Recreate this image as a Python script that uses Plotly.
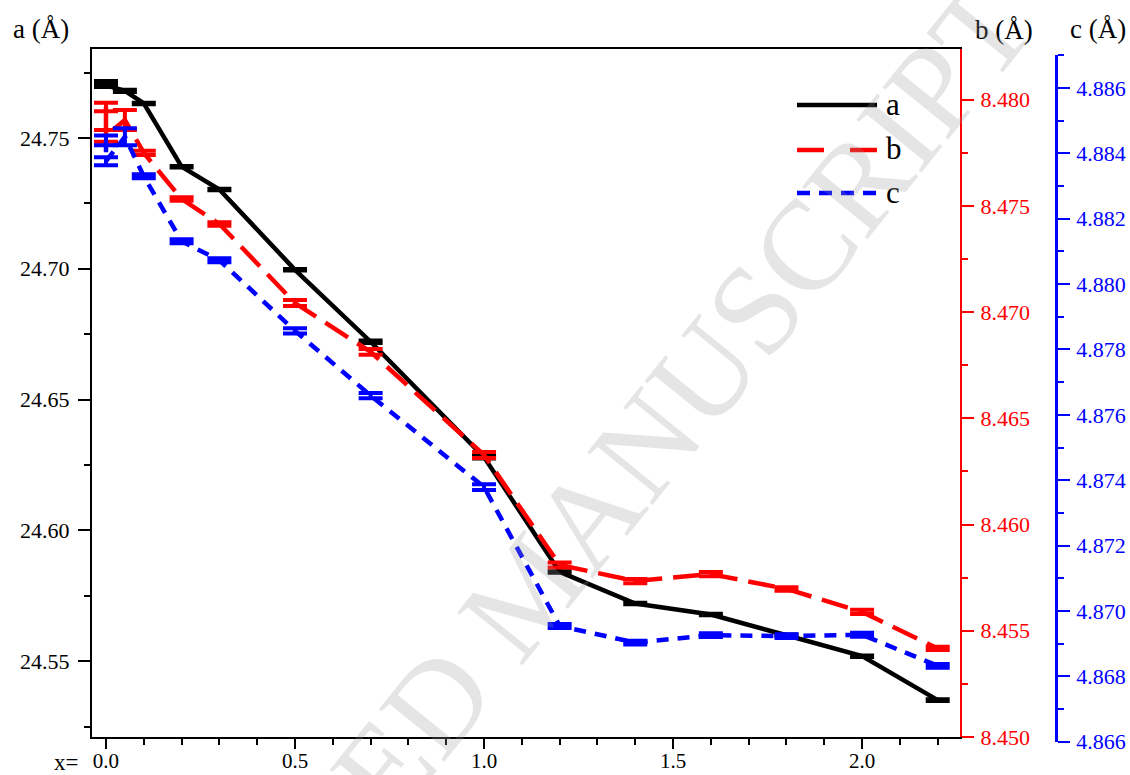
import plotly.graph_objects as go

# ---------------- data ----------------
x_vals = [0.0, 0.0, 0.05, 0.1, 0.2, 0.3, 0.5, 0.7, 1.0, 1.2, 1.4, 1.6, 1.8, 2.0, 2.2]

a_vals = [24.7712, 24.7701, 24.7680, 24.7632, 24.7390, 24.7303, 24.6996, 24.6721,
          24.6280, 24.5841, 24.5720, 24.5678, 24.5599, 24.5519, 24.5351]
a_err = [0.0006, 0.0006, 0.0004, 0.0003, 0.0003, 0.0003, 0.0003, 0.0005,
         0.0005, 0.0003, 0.0003, 0.0003, 0.0003, 0.0003, 0.0003]

b_vals = [8.47966, 8.47830, 8.47905, 8.47750, 8.47533, 8.47415, 8.47043, 8.46813,
          8.46328, 8.45810, 8.45734, 8.45767, 8.45697, 8.45589, 8.45417]
b_err = [0.00020, 0.00028, 0.00047, 0.00010, 0.00008, 0.00008, 0.00014, 0.00014,
         0.00014, 0.00012, 0.00010, 0.00010, 0.00008, 0.00010, 0.00008]

c_vals = [4.88440, 4.88376, 4.88451, 4.88330, 4.88131, 4.88073, 4.87857, 4.87659,
          4.87379, 4.86954, 4.86903, 4.86926, 4.86923, 4.86927, 4.86832]
c_err = [0.00015, 0.00012, 0.00026, 0.00006, 0.00006, 0.00006, 0.00008, 0.00008,
         0.00009, 0.00006, 0.00006, 0.00006, 0.00006, 0.00006, 0.00006]

x_ticks = [0.0, 0.5, 1.0, 1.5, 2.0]
series_names = ["a", "b", "c"]

# ---------------- layout geometry (pixels) ----------------
W, H = 1130, 775
L, R, T, B = 92, 74, 49, 33
PW, PH = W - L - R, H - T - B


def px(p):
    return (p - L) / PW


def py(p):
    return (H - B - p) / PH


FONT = "Liberation Serif"
RED = "#FF0000"
BLUE = "#0000FF"
LW = 4.5

fig = go.Figure()

fig.add_trace(go.Scatter(
    x=x_vals, y=c_vals, name=series_names[2], mode="lines",
    line=dict(color=BLUE, width=LW, dash="12px,9px"),
    error_y=dict(type="data", array=c_err, visible=True, color=BLUE,
                 thickness=4, width=12),
    xaxis="x", yaxis="y3", showlegend=False))

fig.add_trace(go.Scatter(
    x=x_vals, y=b_vals, name=series_names[1], mode="lines",
    line=dict(color=RED, width=LW, dash="27px,11px"),
    error_y=dict(type="data", array=b_err, visible=True, color=RED,
                 thickness=4, width=12),
    xaxis="x", yaxis="y2", showlegend=False))

fig.add_trace(go.Scatter(
    x=x_vals, y=a_vals, name=series_names[0], mode="lines",
    line=dict(color="black", width=LW),
    error_y=dict(type="data", array=a_err, visible=True, color="black",
                 thickness=4, width=12),
    xaxis="x", yaxis="y", showlegend=False))

fig.update_layout(
    width=W, height=H,
    margin=dict(l=L, r=R, t=T, b=B, pad=0, autoexpand=False),
    paper_bgcolor="white", plot_bgcolor="rgba(0,0,0,0)",
    showlegend=False,
    xaxis=dict(
        domain=[0, px(960)], range=[-0.037, 2.259],
        tickvals=x_ticks, tickformat=".1f",
        showline=True, linecolor="black", linewidth=2, mirror=True,
        ticks="outside", ticklen=10, tickwidth=2, tickcolor="black",
        minor=dict(dtick=0.1, tick0=0, ticks="outside", ticklen=6,
                   tickwidth=1.5, tickcolor="black"),
        showgrid=False, zeroline=False,
        tickfont=dict(family=FONT, size=21, color="black"),
        ticklabelstandoff=-6,
        anchor="y",
    ),
    yaxis=dict(
        domain=[py(737), 1], range=[24.521, 24.784],
        dtick=0.05, tick0=24.5, tickformat=".2f",
        showline=True, linecolor="black", linewidth=2,
        ticks="outside", ticklen=12, tickwidth=2, tickcolor="black",
        minor=dict(dtick=0.025, tick0=24.5, ticks="outside", ticklen=6,
                   tickwidth=1.5, tickcolor="black"),
        showgrid=False, zeroline=False,
        tickfont=dict(family=FONT, size=22, color="black"),
        ticklabelstandoff=4,
        anchor="x",
    ),
    yaxis2=dict(
        overlaying="y", side="right", anchor="x",
        range=[8.450, 8.48239],
        dtick=0.005, tick0=8.45, tickformat=".3f",
        showline=True, linecolor=RED, linewidth=2,
        ticks="outside", ticklen=12, tickwidth=2, tickcolor=RED,
        minor=dict(dtick=0.0025, tick0=8.45, ticks="outside", ticklen=6,
                   tickwidth=1.5, tickcolor=RED),
        showgrid=False, zeroline=False,
        tickfont=dict(family=FONT, size=22, color=RED),
        ticklabelstandoff=2,
    ),
    yaxis3=dict(
        domain=[0, py(55)], anchor="free", position=1.0, side="right",
        range=[4.86599, 4.88701],
        dtick=0.002, tick0=4.866, tickformat=".3f",
        showline=True, linecolor=BLUE, linewidth=2.5,
        ticks="outside", ticklen=12, tickwidth=2, tickcolor=BLUE,
        minor=dict(dtick=0.001, tick0=4.866, ticks="outside", ticklen=6,
                   tickwidth=1.5, tickcolor=BLUE),
        showgrid=False, zeroline=False,
        tickfont=dict(family=FONT, size=22, color=BLUE),
        ticklabelstandoff=2,
    ),
)

# ---------------- axis titles / labels ----------------
ann = []
ann.append(dict(text="a (Å)", x=px(11), y=py(29), xref="paper", yref="paper",
                xanchor="left", yanchor="middle", showarrow=False,
                font=dict(family=FONT, size=27, color="black")))
ann.append(dict(text="b (Å)", x=px(973), y=py(30), xref="paper", yref="paper",
                xanchor="left", yanchor="middle", showarrow=False,
                font=dict(family=FONT, size=27, color="black")))
ann.append(dict(text="c (Å)", x=px(1068), y=py(29), xref="paper", yref="paper",
                xanchor="left", yanchor="middle", showarrow=False,
                font=dict(family=FONT, size=27, color="black")))
ann.append(dict(text="x=", x=px(52), y=py(762), xref="paper", yref="paper",
                xanchor="left", yanchor="middle", showarrow=False,
                font=dict(family=FONT, size=23, color="black")))

# ---------------- custom legend ----------------
legend_rows = [
    (series_names[0], "black", "solid", 105),
    (series_names[1], RED, "27px,26px", 150),
    (series_names[2], BLUE, "13px,9px", 193),
]
shapes = []
for name, col, dash, yy in legend_rows:
    shapes.append(dict(type="line", xref="paper", yref="paper",
                       x0=px(797), x1=px(877), y0=py(yy), y1=py(yy),
                       line=dict(color=col, width=LW, dash=dash)))
    ann.append(dict(text=name, x=px(884), y=py(yy - 1), xref="paper", yref="paper",
                    xanchor="left", yanchor="middle", showarrow=False,
                    font=dict(family=FONT, size=31, color="black")))

# ---------------- watermark ----------------
ann.append(dict(text="ACCEPTED MANUSCRIPT", x=px(528), y=py(590),
                xref="paper", yref="paper", xanchor="center", yanchor="middle",
                showarrow=False, textangle=-51,
                font=dict(family=FONT, size=128, color="rgba(150,150,150,0.25)")))

fig.update_layout(annotations=ann, shapes=shapes)

fig.write_html("out.html")
